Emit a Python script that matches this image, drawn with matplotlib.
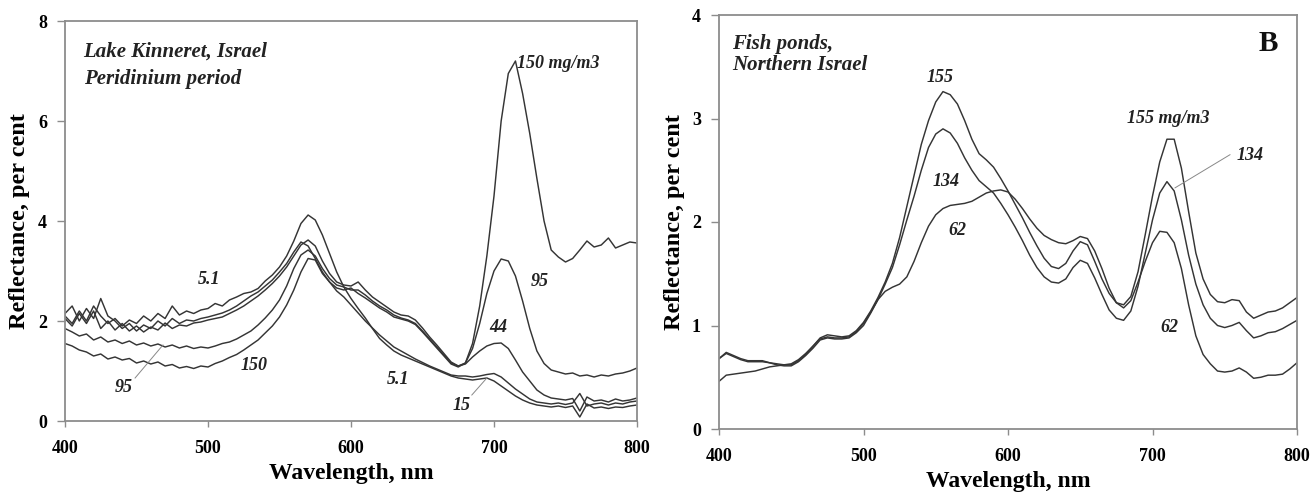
import matplotlib
matplotlib.use("Agg")
import matplotlib.pyplot as plt

plt.rcParams['font.family'] = ['Liberation Serif', 'DejaVu Serif']

# ---------------- Panel A: Lake Kinneret (Peridinium period) ----------------
wl_a = list(range(400, 801, 5))

kin_150 = [1.55, 1.50, 1.42, 1.38, 1.30, 1.34, 1.24, 1.28, 1.22, 1.25, 1.16, 1.20, 1.14, 1.18, 1.10, 1.13,
           1.06, 1.09, 1.05, 1.10, 1.08, 1.15, 1.20, 1.27, 1.33, 1.42, 1.52, 1.62, 1.76, 1.90, 2.08, 2.32,
           2.62, 2.98, 3.25, 3.22, 2.95, 2.78, 2.66, 2.62, 2.66, 2.55, 2.46, 2.36, 2.26, 2.18, 2.08, 2.04,
           2.00, 1.93, 1.78, 1.62, 1.46, 1.30, 1.14, 1.08, 1.16, 1.55, 2.30, 3.30, 4.50, 6.00, 6.95, 7.20,
           6.55, 5.75, 4.85, 4.00, 3.42, 3.28, 3.18, 3.25, 3.42, 3.60, 3.48, 3.52, 3.66, 3.46, 3.52, 3.58,
           3.56]

kin_95 = [1.85, 1.78, 1.70, 1.74, 1.62, 1.68, 1.58, 1.62, 1.55, 1.60, 1.52, 1.56, 1.50, 1.54, 1.48, 1.52,
          1.46, 1.50, 1.45, 1.48, 1.46, 1.50, 1.55, 1.58, 1.64, 1.72, 1.80, 1.92, 2.06, 2.22, 2.42, 2.70,
          3.05, 3.32, 3.42, 3.30, 3.05, 2.85, 2.72, 2.68, 2.62, 2.62, 2.52, 2.40, 2.30, 2.22, 2.12, 2.06,
          2.02, 1.95, 1.80, 1.64, 1.48, 1.32, 1.16, 1.10, 1.16, 1.45, 1.95, 2.55, 3.00, 3.24, 3.20, 2.90,
          2.40, 1.85, 1.40, 1.15, 1.02, 0.98, 0.94, 0.96, 0.90, 0.92, 0.88, 0.92, 0.90, 0.94, 0.96, 1.00,
          1.06]

kin_44 = [2.05, 1.90, 2.15, 1.95, 2.20, 1.85, 2.00, 1.82, 1.95, 1.80, 1.90, 1.78, 1.88, 1.82, 1.96, 1.85,
          1.92, 1.90, 1.96, 1.98, 2.02, 2.05, 2.08, 2.15, 2.22, 2.30, 2.40, 2.50, 2.62, 2.75, 2.90, 3.08,
          3.30, 3.52, 3.62, 3.50, 3.20, 2.95, 2.78, 2.72, 2.70, 2.78, 2.62, 2.48, 2.38, 2.28, 2.18, 2.12,
          2.10, 2.02, 1.86, 1.68, 1.52, 1.35, 1.18, 1.10, 1.14, 1.28, 1.40, 1.50, 1.55, 1.56, 1.45, 1.22,
          0.98, 0.80, 0.62, 0.52, 0.46, 0.44, 0.42, 0.45, 0.20, 0.48, 0.40, 0.42, 0.38, 0.44, 0.40, 0.42,
          0.46]

kin_15 = [2.15, 2.30, 2.00, 2.25, 2.05, 2.45, 2.10, 2.00, 1.85, 1.95, 1.80, 1.92, 1.85, 2.00, 1.90, 2.05,
          1.95, 2.02, 2.00, 2.05, 2.08, 2.12, 2.16, 2.22, 2.30, 2.40, 2.50, 2.58, 2.70, 2.82, 2.98, 3.15,
          3.38, 3.58, 3.50, 3.25, 2.98, 2.78, 2.60, 2.48, 2.32, 2.16, 2.00, 1.86, 1.72, 1.60, 1.48, 1.40,
          1.32, 1.24, 1.17, 1.10, 1.04, 0.98, 0.92, 0.90, 0.90, 0.88, 0.90, 0.93, 0.95, 0.88, 0.76, 0.64,
          0.54, 0.44, 0.38, 0.36, 0.34, 0.36, 0.33, 0.36, 0.55, 0.30, 0.34, 0.36, 0.32, 0.36, 0.34, 0.38,
          0.40]

kin_5_1 = [2.10, 1.95, 2.20, 2.00, 2.30, 2.10, 1.95, 2.05, 1.90, 2.02, 1.95, 2.10, 2.00, 2.15, 2.05, 2.30,
           2.12, 2.20, 2.15, 2.22, 2.25, 2.35, 2.30, 2.42, 2.48, 2.55, 2.58, 2.65, 2.80, 2.92, 3.08, 3.30,
           3.60, 3.95, 4.12, 4.02, 3.72, 3.35, 2.98, 2.68, 2.45, 2.25, 2.06, 1.85, 1.65, 1.52, 1.40, 1.32,
           1.26, 1.20, 1.14, 1.08, 1.02, 0.96, 0.90, 0.86, 0.84, 0.82, 0.84, 0.86, 0.80, 0.70, 0.60, 0.50,
           0.42, 0.36, 0.32, 0.30, 0.28, 0.30, 0.27, 0.30, 0.08, 0.34, 0.26, 0.28, 0.25, 0.28, 0.27, 0.30,
           0.32]

# ---------------- Panel B: fish ponds, Northern Israel ----------------
wl_b = list(range(400, 801, 5))

pond_155 = [0.68, 0.74, 0.71, 0.68, 0.66, 0.66, 0.66, 0.64, 0.63, 0.62, 0.62, 0.66, 0.72, 0.80, 0.88, 0.91,
            0.90, 0.89, 0.90, 0.95, 1.03, 1.14, 1.27, 1.42, 1.60, 1.85, 2.15, 2.45, 2.75, 2.98, 3.16, 3.26,
            3.23, 3.14, 2.98, 2.80, 2.66, 2.60, 2.53, 2.42, 2.30, 2.17, 2.04, 1.90, 1.77, 1.65, 1.57, 1.55,
            1.60, 1.72, 1.81, 1.78, 1.62, 1.45, 1.31, 1.22, 1.20, 1.28, 1.52, 1.88, 2.25, 2.58, 2.80, 2.80,
            2.52, 2.10, 1.70, 1.45, 1.30, 1.23, 1.22, 1.25, 1.24, 1.13, 1.07, 1.10, 1.13, 1.14, 1.17, 1.22,
            1.27]

pond_134 = [0.68, 0.73, 0.70, 0.67, 0.65, 0.65, 0.65, 0.64, 0.62, 0.61, 0.61, 0.65, 0.71, 0.78, 0.86, 0.88,
            0.87, 0.87, 0.88, 0.93, 1.00, 1.12, 1.25, 1.40, 1.56, 1.78, 2.02, 2.25, 2.50, 2.72, 2.85, 2.90,
            2.86, 2.76, 2.62, 2.50, 2.40, 2.34, 2.28, 2.18, 2.07, 1.95, 1.82, 1.68, 1.56, 1.47, 1.42, 1.41,
            1.45, 1.56, 1.63, 1.60, 1.46, 1.30, 1.15, 1.07, 1.05, 1.14, 1.38, 1.70, 2.02, 2.28, 2.39, 2.30,
            2.02, 1.68, 1.40, 1.20, 1.07, 1.00, 0.98, 1.00, 1.03, 0.95, 0.88, 0.90, 0.93, 0.94, 0.97, 1.01,
            1.05]

pond_62 = [0.46, 0.52, 0.53, 0.54, 0.55, 0.56, 0.58, 0.60, 0.61, 0.62, 0.63, 0.67, 0.73, 0.80, 0.87, 0.89,
           0.88, 0.88, 0.89, 0.94, 1.02, 1.13, 1.25, 1.33, 1.37, 1.40, 1.47, 1.62, 1.80, 1.96, 2.07, 2.13,
           2.16, 2.17, 2.18, 2.20, 2.24, 2.28, 2.30, 2.31, 2.29, 2.22, 2.13, 2.03, 1.94, 1.87, 1.83, 1.80,
           1.79, 1.82, 1.86, 1.84, 1.72, 1.55, 1.36, 1.22, 1.17, 1.24, 1.42, 1.62, 1.80, 1.91, 1.90, 1.80,
           1.55, 1.20, 0.90, 0.72, 0.63, 0.56, 0.55, 0.56, 0.59, 0.55, 0.49, 0.50, 0.52, 0.52, 0.53, 0.58,
           0.64]

x_ticks = [400, 500, 600, 700, 800]
a_yticks = [0, 2, 4, 6, 8]
b_yticks = [0, 1, 2, 3, 4]

LINE = '#353535'
FRAME = '#8c8c8c'
LW = 1.05

fig = plt.figure(figsize=(13.16, 4.96), dpi=100)
ax_a = fig.add_axes([65 / 1316, 1 - 421 / 496, 572 / 1316, 400 / 496])
ax_b = fig.add_axes([719 / 1316, 1 - 429 / 496, 578 / 1316, 414 / 496])


def style_axes(ax, yticks, ymax):
    ax.set_xlim(400, 800)
    ax.set_ylim(0, ymax)
    ax.set_xticks(x_ticks)
    ax.set_yticks(yticks)
    for s in ax.spines.values():
        s.set_color(FRAME)
        s.set_linewidth(1.3)
    ax.tick_params(axis='x', direction='out', length=4, width=1.0, color=FRAME,
                   pad=10, labelsize=13)
    ax.tick_params(axis='y', direction='out', length=6, width=1.0, color=FRAME,
                   pad=7, labelsize=13)
    for lab in ax.get_xticklabels() + ax.get_yticklabels():
        lab.set_fontweight('bold')
    ax.set_xlabel('Wavelength, nm', fontsize=17, fontweight='bold', va='center')
    ax.set_ylabel('Reflectance, per cent', fontsize=17.5, fontweight='bold', va='center')


title_style = dict(fontsize=15, fontweight='bold', fontstyle='italic', color='#222222')
note = dict(fontsize=13, fontweight='bold', fontstyle='italic', color='#222222')

# Panel A curves
for series in (kin_150, kin_95, kin_44, kin_15, kin_5_1):
    ax_a.plot(wl_a, series, color=LINE, lw=LW)
style_axes(ax_a, a_yticks, 8)
ax_a.xaxis.set_label_coords(0.5, (421 - 474) / 400)
ax_a.yaxis.set_label_coords((20 - 65) / 572, 0.5)

ax_a.text(413, 7.38, 'Lake Kinneret, Israel', ha='left', va='center', **title_style)
ax_a.text(413, 6.84, 'Peridinium period', ha='left', va='center', **title_style)
ax_a.text(716, 7.16, '150 mg/m3', ha='left', va='center', **note)
ax_a.text(732, 2.78, '95', ha='center', va='center', **note)
ax_a.text(703, 1.86, '44', ha='center', va='center', **note)
ax_a.text(677, 0.32, '15', ha='center', va='center', **note)
ax_a.text(633, 0.82, '5.1', ha='center', va='center', **note)
ax_a.text(501, 2.82, '5.1', ha='center', va='center', **note)
ax_a.text(532, 1.12, '150', ha='center', va='center', **note)
ax_a.text(441, 0.68, '95', ha='center', va='center', **note)
ax_a.plot([684.5, 695], [0.52, 0.86], color='#888888', lw=0.7)
ax_a.plot([449, 468.5], [0.86, 1.52], color='#888888', lw=0.7)

# Panel B curves
for series in (pond_155, pond_134, pond_62):
    ax_b.plot(wl_b, series, color=LINE, lw=LW)
style_axes(ax_b, b_yticks, 4)
ax_b.xaxis.set_label_coords(0.5, (429 - 481) / 414)
ax_b.yaxis.set_label_coords((674 - 719) / 578, 0.5)

ax_b.text(409, 3.72, 'Fish ponds,', ha='left', va='center', **title_style)
ax_b.text(409, 3.52, 'Northern Israel', ha='left', va='center', **title_style)
ax_b.text(553, 3.40, '155', ha='center', va='center', **note)
ax_b.text(557, 2.39, '134', ha='center', va='center', **note)
ax_b.text(565, 1.92, '62', ha='center', va='center', **note)
ax_b.text(711, 3.00, '155 mg/m3', ha='center', va='center', **note)
ax_b.text(767.5, 2.64, '134', ha='center', va='center', **note)
ax_b.text(711.4, 0.98, '62', ha='center', va='center', **note)
ax_b.plot([715.6, 753.6], [2.33, 2.65], color='#888888', lw=0.7)
ax_b.text(780, 3.72, 'B', ha='center', va='center', fontsize=21, fontweight='bold',
          color='#111111')

fig.savefig('out.png', dpi=100)
